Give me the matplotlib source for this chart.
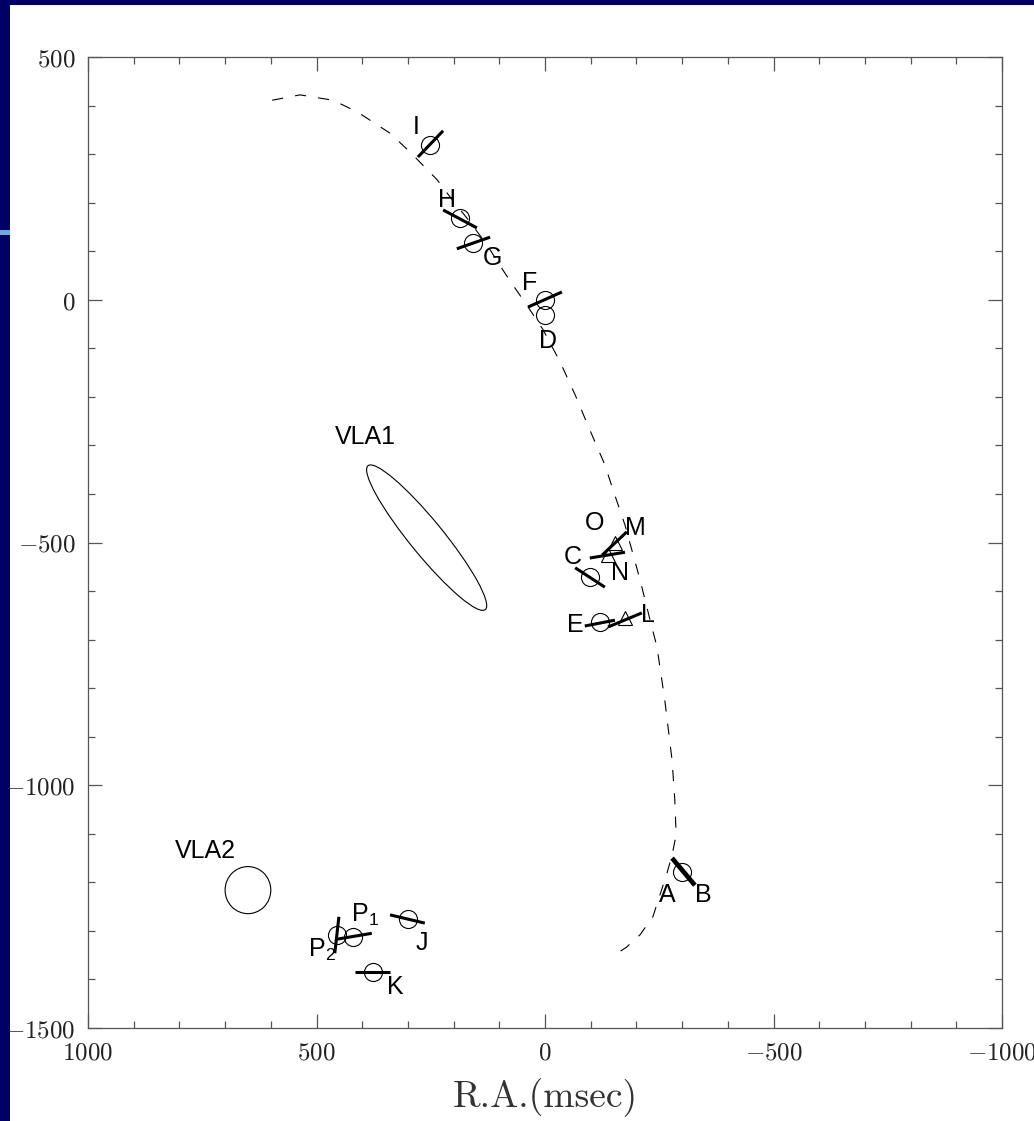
import matplotlib
matplotlib.use("Agg")
import matplotlib.pyplot as plt
from matplotlib.patches import Ellipse, Rectangle
from matplotlib.ticker import FixedLocator, FixedFormatter, MultipleLocator

# dashed arc, offsets in mas (R.A., Dec)
arc_x = [597, 536, 464, 411, 339, 295, 236, 208, 164, 127, 92, 70, 37, 4, -33, -66, -98,
         -131, -149, -175, -208, -230, -245, -262, -278, -284, -287, -278, -267, -236,
         -208, -179, -149]
arc_y = [411, 422, 411, 387, 343, 304, 247, 212, 160, 113, 61, 30, -15, -62, -128, -196,
         -268, -340, -392, -464, -577, -660, -715, -824, -948, -1030, -1102, -1144, -1181,
         -1271, -1308, -1333, -1352]

# maser spots drawn as open circles
circ_x = [252, 186, 158, 0, 0, -98, -120, 455, 420, 300, 376, -300]
circ_y = [319, 168, 117, 0, -31, -571, -664, -1309, -1313, -1276, -1385, -1179]

# spots drawn as open triangles
tri_x = [-153, -138, -175]
tri_y = [-501, -526, -656]

# polarization bars: (x0, y0, x1, y1)
bar_x0 = [278, 223, 193, 37, -125, -98, -66, -87, -138, 451, 455, 339, 416]
bar_y0 = [294, 185, 105, -15, -526, -532, -552, -672, -674, -1271, -1317, -1267, -1385]
bar_x1 = [223, 149, 120, -37, -179, -175, -131, -153, -212, 460, 379, 263, 339]
bar_y1 = [348, 148, 129, 16, -478, -520, -592, -660, -645, -1346, -1305, -1284, -1385]
# the thick bar on B
thick_bar = ([-278, -328], [-1150, -1206])

spot_names = ["I", "H", "G", "F", "D", "O", "M", "C", "N", "E", "L",
              "P$_{\\mathregular{1}}$", "P$_{\\mathregular{2}}$", "J", "K", "A", "B"]
name_x = [282, 215, 116, 33, -6, -109, -197, -61, -164, -66, -225, 394, 488, 269, 328, -267, -346]
name_y = [356, 205, 86, 35, -85, -460, -470, -530, -563, -670, -649, -1267, -1339, -1325, -1416, -1226, -1226]

# continuum sources
vla1 = dict(x=259, y=-490, major=392, minor=72, angle=49)
vla2 = dict(x=650, y=-1216, major=100, minor=97, angle=0)
vla_names = ["VLA1", "VLA2"]
vla_name_x = [394, 744]
vla_name_y = [-283, -1135]

xticks = [1000, 500, 0, -500, -1000]
xtick_labels = ["$1000$", "$500$", "$0$", "$-500$", "$-1000$"]
yticks = [500, 0, -500, -1000, -1500]
ytick_labels = ["$500$", "$0$", "$-500$", "$-1000$", "$-1500$"]

plt.rcParams["mathtext.fontset"] = "cm"
label_font = ["Liberation Sans", "DejaVu Sans"]

fig = plt.figure(figsize=(10.34, 11.21), dpi=100, facecolor="#000066")
fig.patches.append(Rectangle((10 / 1034, 0), 1, 1 - 5 / 1121, transform=fig.transFigure,
                             facecolor="white", edgecolor="none", zorder=-5))
fig.patches.append(Rectangle((0, 1 - 235 / 1121), 10 / 1034, 5 / 1121, transform=fig.transFigure,
                             facecolor="#6fa8dc", edgecolor="none", zorder=5))

ax = fig.add_axes([88 / 1034, 93 / 1121, 914 / 1034, 971 / 1121])
ax.set_facecolor("none")
ax.set_xlim(1000, -1000)
ax.set_ylim(-1500, 500)

ax.plot(arc_x, arc_y, color="black", lw=0.8, dashes=(10, 11))

for x0, y0, x1, y1 in zip(bar_x0, bar_y0, bar_x1, bar_y1):
    ax.plot([x0, x1], [y0, y1], color="black", lw=2.2, solid_capstyle="butt")
ax.plot(thick_bar[0], thick_bar[1], color="black", lw=3.4, solid_capstyle="butt")

ax.plot(circ_x, circ_y, "o", ms=13, mfc="none", mec="black", mew=0.8, ls="none")
ax.plot(tri_x, tri_y, "^", ms=10, mfc="none", mec="black", mew=0.8, ls="none")

for src in (vla1, vla2):
    ax.add_patch(Ellipse((src["x"], src["y"]), src["major"], src["minor"], angle=src["angle"],
                         facecolor="none", edgecolor="black", lw=0.8))

for name, x, y in zip(spot_names, name_x, name_y):
    ax.text(x, y, name, ha="center", va="center", fontsize=18, family=label_font)
for name, x, y in zip(vla_names, vla_name_x, vla_name_y):
    ax.text(x, y, name, ha="center", va="center", fontsize=18, family=label_font)

ax.xaxis.set_major_locator(FixedLocator(xticks))
ax.xaxis.set_major_formatter(FixedFormatter(xtick_labels))
ax.yaxis.set_major_locator(FixedLocator(yticks))
ax.yaxis.set_major_formatter(FixedFormatter(ytick_labels))
ax.xaxis.set_minor_locator(MultipleLocator(100))
ax.yaxis.set_minor_locator(MultipleLocator(100))
ax.tick_params(which="both", direction="in", top=True, right=True, color="#555555", width=0.9,
               labelsize=18, labelcolor="#222222")
ax.tick_params(which="major", length=10, pad=9)
ax.tick_params(which="minor", length=5)
for s in ax.spines.values():
    s.set_color("#555555")
    s.set_linewidth(0.9)

ax.set_xlabel("R.A.(msec)", family="cmr10", fontsize=27, color="#333333", labelpad=10)

fig.savefig("out.png", dpi=100, facecolor=fig.get_facecolor())
